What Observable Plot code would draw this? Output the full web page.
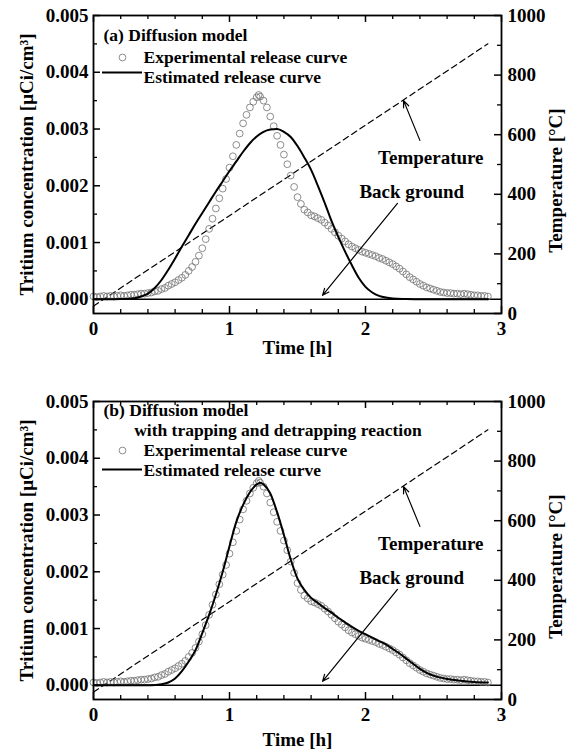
<!DOCTYPE html>
<html><head><meta charset="utf-8">
<script src="https://cdn.jsdelivr.net/npm/d3@7"></script>
<script src="https://cdn.jsdelivr.net/npm/@observablehq/plot@0.6"></script>
<style>
body{margin:0;background:#fff;}
#chart{width:574px;}
#chart svg{display:block;}
</style></head><body><div id="chart"></div>
<script>
// ---- data (concentration in 10^-3 µCi/cm³, time in h, temperature in °C) ----
const expTime = [0.000,0.025,0.050,0.075,0.100,0.125,0.150,0.175,0.200,0.225,0.250,0.275,0.300,0.325,0.350,0.375,0.400,0.425,0.450,0.475,0.500,0.525,0.550,0.575,0.600,0.625,0.650,0.675,0.700,0.725,0.750,0.775,0.800,0.825,0.850,0.875,0.900,0.925,0.950,0.975,1.000,1.025,1.050,1.075,1.100,1.125,1.150,1.175,1.200,1.215,1.225,1.250,1.275,1.300,1.325,1.350,1.375,1.400,1.425,1.450,1.475,1.500,1.525,1.550,1.575,1.600,1.625,1.650,1.675,1.700,1.725,1.750,1.775,1.800,1.825,1.850,1.875,1.900,1.925,1.950,1.975,2.000,2.025,2.050,2.075,2.100,2.125,2.150,2.175,2.200,2.225,2.250,2.275,2.300,2.325,2.350,2.375,2.400,2.425,2.450,2.475,2.500,2.525,2.550,2.575,2.600,2.625,2.650,2.675,2.700,2.725,2.750,2.775,2.800,2.825,2.850,2.875,2.900];
const expConc = [0.05,0.04,0.05,0.06,0.05,0.06,0.05,0.06,0.07,0.06,0.07,0.08,0.08,0.09,0.10,0.10,0.11,0.12,0.14,0.15,0.18,0.20,0.24,0.27,0.30,0.34,0.38,0.43,0.50,0.57,0.66,0.77,0.90,1.06,1.24,1.42,1.60,1.78,1.95,2.12,2.32,2.52,2.72,2.92,3.10,3.25,3.38,3.48,3.56,3.60,3.57,3.50,3.38,3.22,3.05,2.88,2.72,2.55,2.38,2.18,1.98,1.80,1.68,1.58,1.53,1.48,1.46,1.43,1.40,1.35,1.30,1.24,1.18,1.12,1.07,1.02,0.97,0.93,0.90,0.87,0.84,0.82,0.80,0.78,0.76,0.73,0.71,0.68,0.65,0.62,0.58,0.54,0.49,0.44,0.39,0.35,0.31,0.27,0.24,0.21,0.19,0.17,0.15,0.13,0.12,0.11,0.11,0.10,0.10,0.09,0.10,0.09,0.08,0.07,0.07,0.06,0.06,0.05];

const estATime = [0,0.1,0.2,0.3,0.35,0.4,0.45,0.5,0.55,0.6,0.65,0.7,0.75,0.8,0.85,0.9,0.95,1.0,1.05,1.1,1.15,1.2,1.25,1.3,1.35,1.4,1.45,1.5,1.55,1.6,1.65,1.7,1.75,1.8,1.85,1.9,1.95,2.0,2.05,2.1,2.15,2.2,2.3,2.4,2.9];
const estAConc = [0,0,0.005,0.02,0.05,0.1,0.2,0.34,0.52,0.72,0.93,1.13,1.33,1.52,1.71,1.9,2.08,2.26,2.43,2.6,2.75,2.87,2.95,2.99,3.0,2.95,2.86,2.7,2.5,2.28,2.0,1.7,1.38,1.1,0.84,0.6,0.38,0.22,0.12,0.06,0.03,0.015,0.005,0,0];

const estBTime = [0,0.3,0.42,0.5,0.55,0.6,0.65,0.7,0.75,0.8,0.85,0.9,0.95,1.0,1.05,1.1,1.15,1.2,1.225,1.25,1.3,1.35,1.4,1.45,1.5,1.55,1.6,1.65,1.7,1.75,1.8,1.85,1.9,1.95,2.0,2.05,2.1,2.15,2.2,2.25,2.3,2.35,2.4,2.45,2.5,2.6,2.7,2.8,2.9];
const estBConc = [0,0,0,0.02,0.05,0.12,0.25,0.42,0.62,0.92,1.24,1.6,2.0,2.45,2.88,3.18,3.4,3.54,3.57,3.54,3.38,3.05,2.65,2.22,1.88,1.68,1.54,1.45,1.36,1.28,1.19,1.11,1.03,0.96,0.9,0.84,0.78,0.72,0.64,0.56,0.47,0.38,0.29,0.22,0.17,0.11,0.08,0.06,0.05];

const tempTime = [0, 2.9];
const tempC = [25, 905];
const background = [0];

const xMajor = [0, 1, 2, 3];
const xMinor = [0.2,0.4,0.6,0.8,1.2,1.4,1.6,1.8,2.2,2.4,2.6,2.8];
const yMajor = [0, 1, 2, 3, 4, 5];
const yMinor = [0.5, 1.5, 2.5, 3.5, 4.5];
const tMajor = [0, 200, 400, 600, 800, 1000];
const tMinor = [100, 300, 500, 700, 900];

const annLabels = ["Temperature", "Back ground"];
const annLabelX = [2.48, 2.34];
const annLabelY = [2.39, 1.78];
const annArrowX1 = [2.40, 2.235];
const annArrowY1 = [2.80, 1.69];
const annArrowX2 = [2.28, 1.684];
const annArrowY2 = [3.50, 0.07];

const titleA = "(a) Diffusion model";
const titleB = "(b) Diffusion model\n       with trapping and detrapping reaction";
const legendLabels = ["Experimental release curve", "Estimated release curve"];

const yDomain = [-0.25, 5];
const tDomain = [0, 1000];

// ---- helpers ----
const toY = T => yDomain[0] + (T - tDomain[0]) / (tDomain[1] - tDomain[0]) * (yDomain[1] - yDomain[0]);
const fromY = y => tDomain[0] + (y - yDomain[0]) / (yDomain[1] - yDomain[0]) * (tDomain[1] - tDomain[0]);
const FONT = "'Liberation Serif', 'Times New Roman', Times, serif";
const TXT = {fontFamily: FONT, fontWeight: "bold", fill: "black"};
const W = 574, ML = 93, MR = 73, MT = 15;
const CIRC = {r: 3.4, stroke: "#707070", strokeWidth: 0.8, fill: "none"};

const exp = expTime.map((t, i) => ({t, c: expConc[i]}));
const estA = estATime.map((t, i) => ({t, c: estAConc[i]}));
const estB = estBTime.map((t, i) => ({t, c: estBConc[i]}));
const temp = tempTime.map((t, i) => ({t, T: tempC[i]}));
const ann = annLabels.map((label, i) => ({label, x: annLabelX[i], y: annLabelY[i],
  x1: annArrowX1[i], y1: annArrowY1[i], x2: annArrowX2[i], y2: annArrowY2[i]}));

function panel({height, marginBottom, est, title, titleDy, legendDy, timeDy}) {
  const fw = W - ML - MR, fh = height - MT - marginBottom;
  return Plot.plot({
    width: W, height, marginLeft: ML, marginRight: MR, marginTop: MT, marginBottom,
    x: {domain: [0, 3]},
    y: {domain: yDomain},
    style: {background: "white", color: "black", fontFamily: FONT},
    marks: [
      Plot.ruleY(background, {stroke: "black", strokeWidth: 1.4}),
      Plot.line(temp, {x: "t", y: d => toY(d.T), stroke: "black", strokeWidth: 1.2, strokeDasharray: "6,4"}),
      Plot.dot(exp, {x: "t", y: "c", ...CIRC}),
      Plot.line(est, {x: "t", y: "c", stroke: "black", strokeWidth: 2, curve: "monotone-x"}),
      Plot.arrow(ann, {x1: "x1", y1: "y1", x2: "x2", y2: "y2", stroke: "black", strokeWidth: 1.2, headLength: 9, headAngle: 45}),
      Plot.text(ann, {x: "x", y: "y", text: "label", textAnchor: "middle", lineAnchor: "bottom", fontSize: 19, ...TXT}),
      // title / legend
      Plot.text([title], {text: d => d, frameAnchor: "top-left", dx: 10, dy: titleDy, textAnchor: "start", lineAnchor: "bottom", lineHeight: 1.12, fontSize: 17.5, ...TXT}),
      Plot.dot([0], {frameAnchor: "top-left", dx: 29, dy: legendDy[0], ...CIRC}),
      Plot.text([legendLabels[0]], {text: d => d, frameAnchor: "top-left", dx: 50, dy: legendDy[1], textAnchor: "start", lineAnchor: "bottom", fontSize: 17.5, ...TXT}),
      Plot.ruleY([yDomain[1]], {dy: legendDy[2], insetLeft: 9, insetRight: fw - 49, stroke: "black", strokeWidth: 2}),
      Plot.text([legendLabels[1]], {text: d => d, frameAnchor: "top-left", dx: 50, dy: legendDy[3], textAnchor: "start", lineAnchor: "bottom", fontSize: 17.5, ...TXT}),
      // inward ticks
      Plot.tickX(xMinor, {x: d => d, insetTop: fh - 4, stroke: "black", strokeWidth: 1.3}),
      Plot.tickX(xMajor, {x: d => d, insetTop: fh - 7, stroke: "black", strokeWidth: 1.5}),
      Plot.tickX(xMinor, {x: d => d, insetBottom: fh - 4, stroke: "black", strokeWidth: 1.3}),
      Plot.tickX(xMajor, {x: d => d, insetBottom: fh - 7, stroke: "black", strokeWidth: 1.5}),
      Plot.tickY(yMinor, {y: d => d, insetRight: fw - 4, stroke: "black", strokeWidth: 1.3}),
      Plot.tickY(yMajor, {y: d => d, insetRight: fw - 7, stroke: "black", strokeWidth: 1.5}),
      Plot.tickY(tMinor, {y: d => toY(d), insetLeft: fw - 4, stroke: "black", strokeWidth: 1.3}),
      Plot.tickY(tMajor, {y: d => toY(d), insetLeft: fw - 7, stroke: "black", strokeWidth: 1.5}),
      Plot.frame({stroke: "black", strokeWidth: 1.8}),
      // axes
      Plot.axisX({ticks: xMajor, tickSize: 0, tickPadding: 8, tickFormat: d => String(d), label: null, fontSize: 19, ...TXT}),
      Plot.axisY({ticks: yMajor, tickSize: 0, tickPadding: 5, tickFormat: d => (d / 1000).toFixed(3), label: null, fontSize: 19, ...TXT}),
      Plot.axisY({anchor: "right", ticks: tMajor.map(toY), tickSize: 0, tickPadding: 6, tickFormat: d => String(Math.round(fromY(d))), label: null, fontSize: 19, ...TXT}),
      Plot.text(["Time [h]"], {text: d => d, frameAnchor: "bottom", dy: timeDy, lineAnchor: "bottom", fontSize: 19, ...TXT}),
      Plot.text(["Tritium concentration [μCi/cm³]"], {text: d => d, frameAnchor: "left", dx: -61, dy: 0, rotate: -90, textAnchor: "middle", lineAnchor: "bottom", fontSize: 19, ...TXT}),
      Plot.text(["Temperature [°C]"], {text: d => d, frameAnchor: "right", dx: 60, dy: 16, rotate: -90, textAnchor: "middle", lineAnchor: "bottom", fontSize: 19, ...TXT})
    ]
  });
}

const root = document.getElementById("chart");
root.append(panel({height: 386, marginBottom: 73, est: estA,
  title: titleA, titleDy: 25, legendDy: [42, 47, 57, 67], timeDy: 40}));
root.append(panel({height: 369, marginBottom: 56, est: estB,
  title: titleB, titleDy: 34, legendDy: [49, 54, 68, 74], timeDy: 46}));
</script>
</body></html>
